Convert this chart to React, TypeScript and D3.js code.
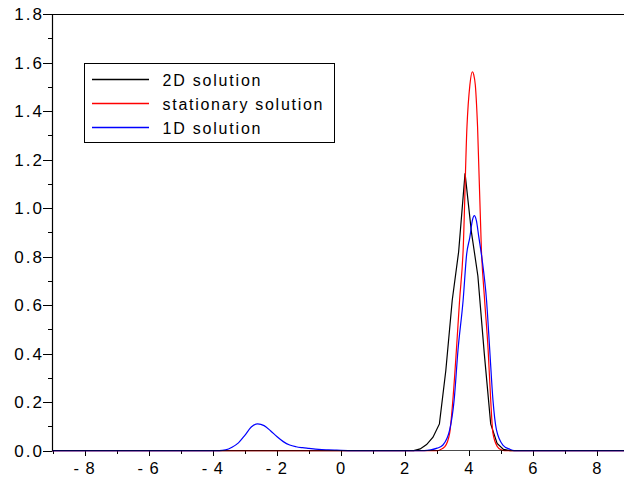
import React from "react";
import * as d3 from "d3";

// ---- data ----
const x2D = [-9, 2.27, 2.47, 2.67, 2.87, 3.07, 3.27, 3.47, 3.67, 3.87, 4.07, 4.27, 4.47, 4.67, 4.87, 5.07, 5.27, 9];
const y2D = [0, 0, 0.007, 0.025, 0.055, 0.11, 0.33, 0.62, 0.82, 1.143, 0.9, 0.72, 0.4, 0.11, 0.03, 0.005, 0, 0];

const xStat = [-9, 3.0, 3.1, 3.24, 3.39, 3.49, 3.6, 3.7, 3.81, 3.93, 4.02, 4.1, 4.14, 4.19, 4.26, 4.38, 4.48, 4.59, 4.67, 4.74, 4.88, 5.0, 5.1, 9];
const yStat = [0, 0, 0.004, 0.016, 0.072, 0.209, 0.415, 0.621, 0.826, 1.336, 1.507, 1.562, 1.55, 1.507, 1.336, 0.826, 0.621, 0.415, 0.209, 0.072, 0.016, 0.003, 0, 0];

const x1D = [-9, -3.8, -3.6, -3.4, -3.2, -3.0, -2.8, -2.6, -2.4, -2.2, -2.0, -1.8, -1.6, -1.4, -1.2, -1.0, -0.8, -0.6, -0.4, -0.2, 0, 0.4, 2.6, 2.8, 3.0, 3.18, 3.39, 3.53, 3.65, 3.81, 3.92, 4.02, 4.1, 4.16, 4.22, 4.3, 4.4, 4.54, 4.64, 4.74, 4.85, 5.05, 5.26, 5.4, 9];
const y1D = [0, 0, 0.003, 0.014, 0.032, 0.063, 0.097, 0.11, 0.103, 0.082, 0.058, 0.037, 0.023, 0.016, 0.012, 0.009, 0.006, 0.004, 0.003, 0.002, 0.001, 0, 0, 0.003, 0.01, 0.023, 0.085, 0.209, 0.415, 0.62, 0.81, 0.88, 0.95, 0.969, 0.95, 0.88, 0.79, 0.62, 0.415, 0.209, 0.085, 0.023, 0.006, 0, 0];

const seriesNames = ["2D solution", "stationary solution", "1D solution"];
const seriesColors = ["#000000", "#ff0000", "#0000ff"];

const xTickValues = [-8, -6, -4, -2, 0, 2, 4, 6, 8];
const xTickLabels = ["- 8", "- 6", "- 4", "- 2", "0", "2", "4", "6", "8"];
const xMinorTicks = [-9, -7, -5, -3, -1, 1, 3, 5, 7, 9];
const yTickValues = [0, 0.2, 0.4, 0.6, 0.8, 1.0, 1.2, 1.4, 1.6, 1.8];
const yTickLabels = ["0.0", "0.2", "0.4", "0.6", "0.8", "1.0", "1.2", "1.4", "1.6", "1.8"];
const yMinorTicks = [0.1, 0.3, 0.5, 0.7, 0.9, 1.1, 1.3, 1.5, 1.7];

export default function App() {
  const W = 624;
  const H = 478;
  const x = d3.scaleLinear().domain([-9, 9]).range([52.5, 629.5]);
  const y = d3.scaleLinear().domain([0, 1.8]).range([450.6, 14]);

  const series = [
    { xs: x2D, ys: y2D, curve: d3.curveLinear },
    { xs: xStat, ys: yStat, curve: d3.curveMonotoneX },
    { xs: x1D, ys: y1D, curve: d3.curveMonotoneX },
  ];

  const font = "'Liberation Sans', Arial, sans-serif";

  return (
    <svg
      width={W}
      height={H}
      style={{ position: "absolute", left: 0, top: 0, background: "#fff" }}
      fontFamily={font}
    >
      <rect x={0} y={0} width={W} height={H} fill="#fff" />
      <defs>
        <clipPath id="plotclip">
          <rect x={52} y={0} width={W - 52} height={452} />
        </clipPath>
      </defs>

      {/* frame: top line and left axis */}
      <line x1={52.5} x2={W} y1={14.5} y2={14.5} stroke="#000" strokeWidth={1.2} />
      <line x1={52.5} x2={52.5} y1={14} y2={451} stroke="#000" strokeWidth={1.2} />

      {/* y ticks */}
      {yTickValues.map((v, i) => (
        <g key={"yt" + i}>
          <line x1={43} x2={52.5} y1={Math.round(y(v)) + 0.5} y2={Math.round(y(v)) + 0.5} stroke="#000" />
          <text
            x={44}
            y={y(v)}
            dy="0.36em"
            textAnchor="end"
            fontSize={17}
            letterSpacing={2}
            fill="#000"
          >
            {yTickLabels[i]}
          </text>
        </g>
      ))}
      {yMinorTicks.map((v, i) => (
        <line key={"ym" + i} x1={48} x2={52.5} y1={Math.round(y(v)) + 0.5} y2={Math.round(y(v)) + 0.5} stroke="#000" />
      ))}

      {/* x ticks */}
      {xTickValues.map((v, i) => (
        <g key={"xt" + i}>
          <line x1={Math.round(x(v)) + 0.5} x2={Math.round(x(v)) + 0.5} y1={450.5} y2={456} stroke="#000" />
          <text x={x(v)} y={473.5} textAnchor="middle" fontSize={16.5} letterSpacing={1} fill="#000">
            {xTickLabels[i]}
          </text>
        </g>
      ))}
      {xMinorTicks.map((v, i) => (
        <line key={"xm" + i} x1={Math.round(x(v)) + 0.5} x2={Math.round(x(v)) + 0.5} y1={450.5} y2={454} stroke="#000" />
      ))}

      {/* curves */}
      <g clipPath="url(#plotclip)">
        {series.map((s, k) => {
          const pts: [number, number][] = s.xs.map((xv, j) => [xv, s.ys[j]]);
          const gen = d3
            .line<[number, number]>()
            .x((d) => x(d[0]))
            .y((d) => y(d[1]))
            .curve(s.curve);
          return (
            <path key={"s" + k} d={gen(pts) || ""} fill="none" stroke={seriesColors[k]} strokeWidth={1.2} />
          );
        })}
      </g>

      {/* x axis line, drawn over the curves' zero segments */}
      <line x1={52} x2={W} y1={450.5} y2={450.5} stroke="#000" strokeOpacity={0.7} strokeWidth={1.2} />

      {/* legend */}
      <rect x={84.5} y={63.5} width={250} height={79} fill="#fff" stroke="#000" strokeWidth={1} />
      {seriesNames.map((name, k) => (
        <g key={"lg" + k}>
          <line x1={92} x2={149} y1={79.5 + k * 24} y2={79.5 + k * 24} stroke={seriesColors[k]} strokeWidth={1.5} />
          <text
            x={162.5}
            y={85.8 + k * 24}
            fontSize={16}
            textLength={k === 1 ? 160 : 98}
            lengthAdjust="spacing"
            fill="#000"
          >
            {name}
          </text>
        </g>
      ))}
    </svg>
  );
}
